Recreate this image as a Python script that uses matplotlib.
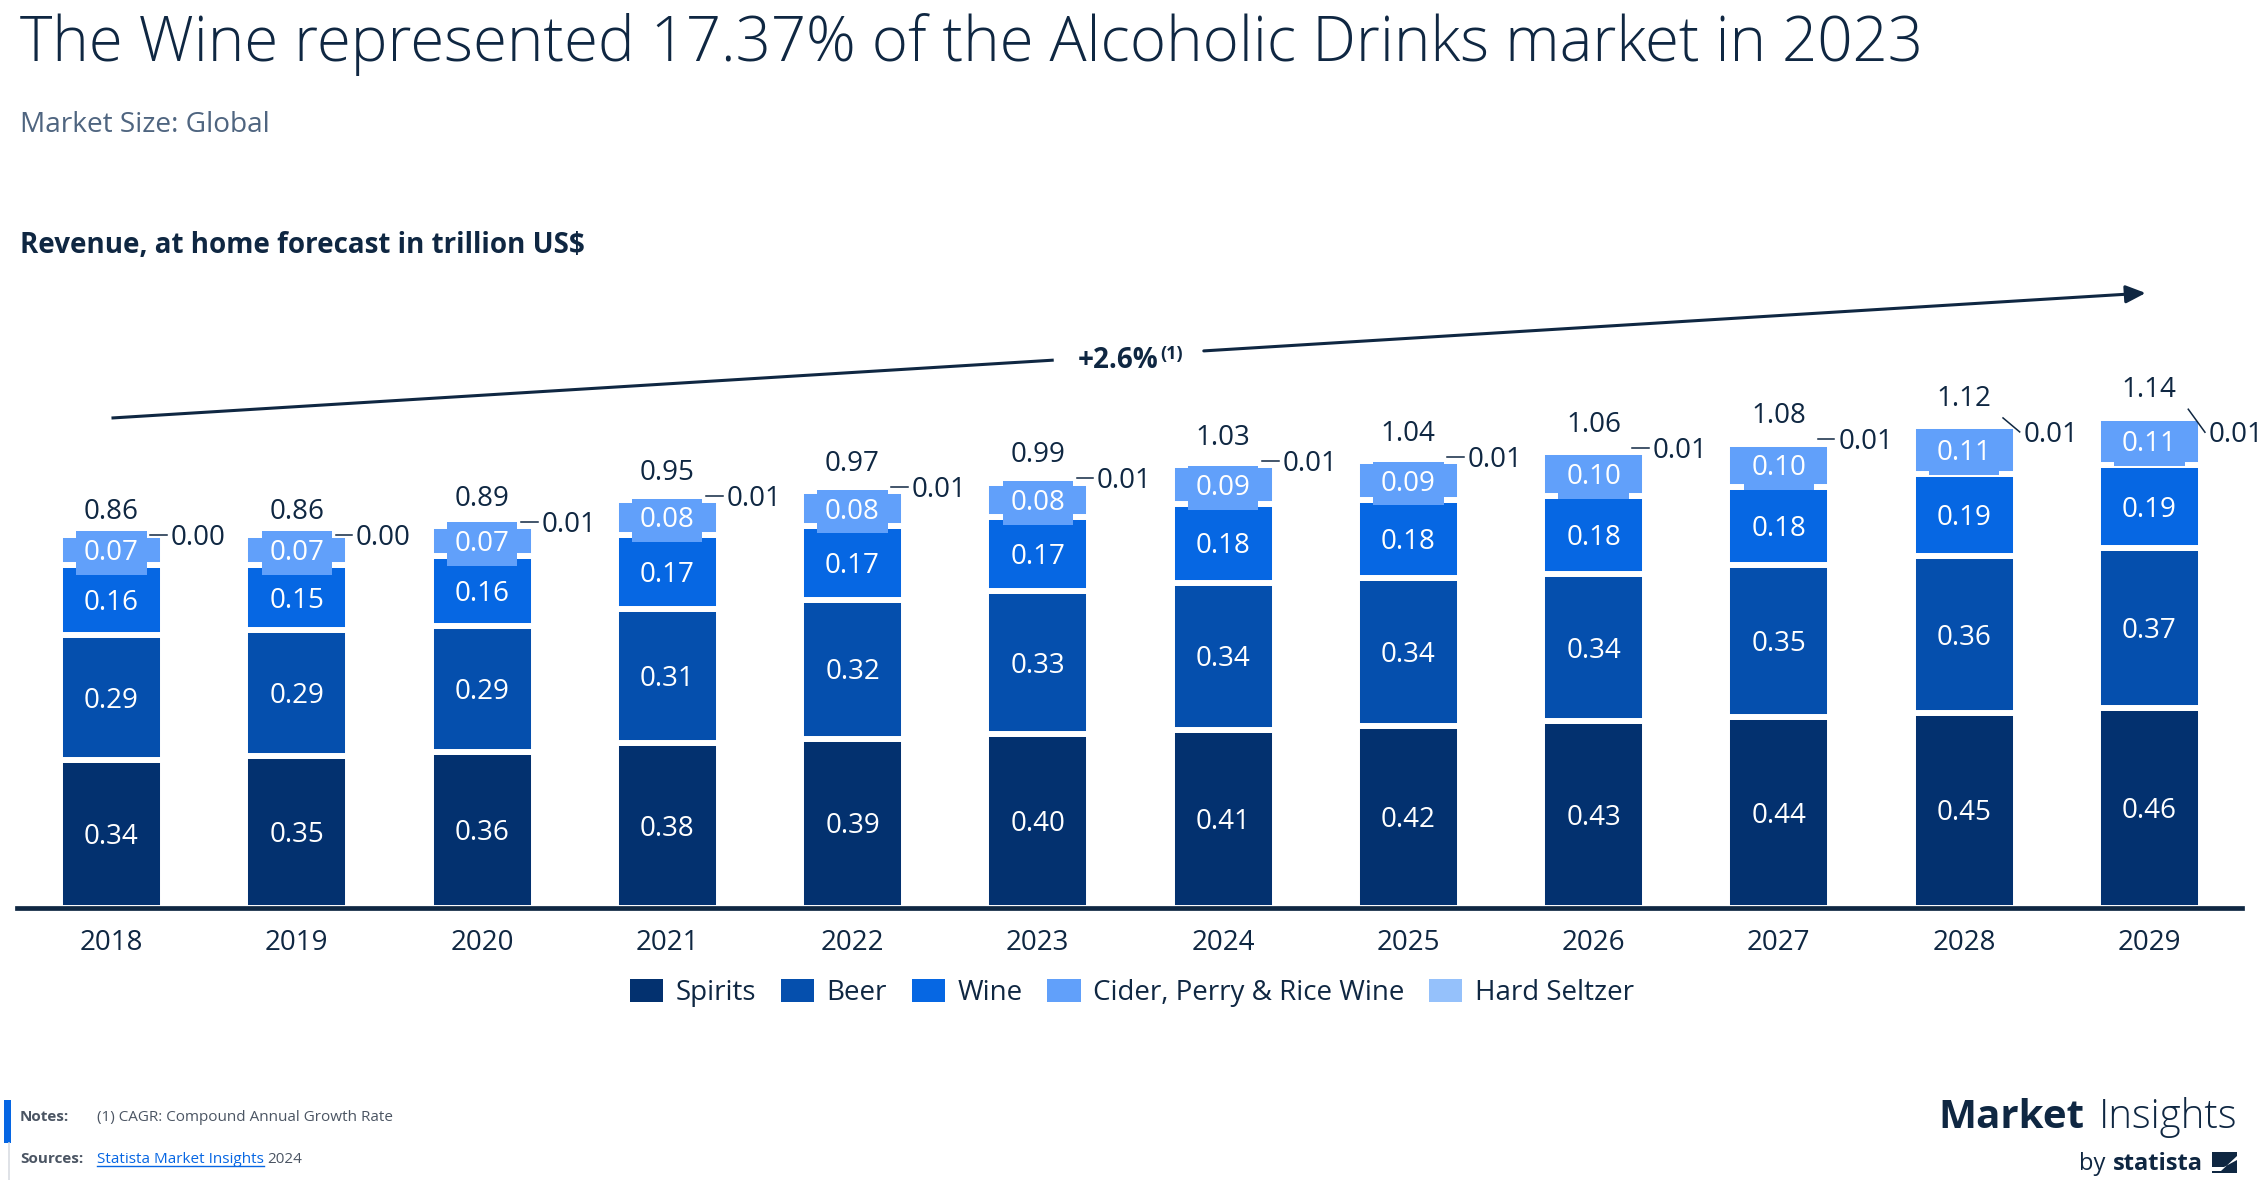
import matplotlib
matplotlib.use('Agg')
import matplotlib.pyplot as plt
from matplotlib.patches import Patch, Rectangle, Polygon
from matplotlib.lines import Line2D
import numpy as np

# ---------------- data ----------------
years = ['2018', '2019', '2020', '2021', '2022', '2023', '2024', '2025', '2026', '2027', '2028', '2029']
spirits = [0.34, 0.35, 0.36, 0.38, 0.39, 0.40, 0.41, 0.42, 0.43, 0.44, 0.45, 0.46]
beer = [0.29, 0.29, 0.29, 0.31, 0.32, 0.33, 0.34, 0.34, 0.34, 0.35, 0.36, 0.37]
wine = [0.16, 0.15, 0.16, 0.17, 0.17, 0.17, 0.18, 0.18, 0.18, 0.18, 0.19, 0.19]
cider = [0.07, 0.07, 0.07, 0.08, 0.08, 0.08, 0.09, 0.09, 0.10, 0.10, 0.11, 0.11]
seltzer = [0.00, 0.00, 0.01, 0.01, 0.01, 0.01, 0.01, 0.01, 0.01, 0.01, 0.01, 0.01]
totals = [0.86, 0.86, 0.89, 0.95, 0.97, 0.99, 1.03, 1.04, 1.06, 1.08, 1.12, 1.14]
series_names = ['Spirits', 'Beer', 'Wine', 'Cider, Perry & Rice Wine', 'Hard Seltzer']
cagr_text = '+2.6%'
cagr_note = '(1)'
title_text = 'The Wine represented 17.37% of the Alcoholic Drinks market in 2023'
subtitle_text = 'Market Size: Global'
chart_title = 'Revenue, at home forecast in trillion US$'
notes_text = '(1) CAGR: Compound Annual Growth Rate'

# ---------------- style ----------------
plt.rcParams['font.family'] = ['Open Sans', 'DejaVu Sans']
DARK = '#0f2742'
colors = ['#03316f', '#054fad', '#0667e3', '#61a0fa', '#95c1fb']

W, H = 2266, 1180
fig = plt.figure(figsize=(W / 100, H / 100), dpi=100)
fig.patch.set_facecolor('white')

YMAX = 1.5
ax_h_px = 651
ax = fig.add_axes([17 / W, 272 / H, 2225 / W, ax_h_px / H])
ax.set_xlim(-0.51, 11.5)
ax.set_ylim(0, YMAX)
PPU = ax_h_px / YMAX  # pixels per data unit in y

x = np.arange(len(years))
series = [spirits, beer, wine, cider, seltzer]
bottom = np.zeros(len(years))
BAR_W = 0.556
for k, (vals, c) in enumerate(zip(series, colors)):
    vals = np.array(vals)
    ax.bar(x, vals, width=BAR_W, bottom=bottom, color=c, edgecolor='white',
           linewidth=4.3, zorder=2)
    if k < 4:
        for i, v in enumerate(vals):
            t = ax.annotate(f'{v:.2f}', (x[i], bottom[i] + v / 2), xytext=(0, -10),
                            textcoords='offset pixels', ha='center', va='baseline',
                            color='white', fontsize=20, zorder=4)
            if k == 3:
                t.set_bbox(dict(boxstyle='square,pad=0.28', fc=c, ec='none'))
    bottom += vals

# total labels
for i, tv in enumerate(totals):
    ax.annotate(f'{tv:.2f}', (x[i], tv), xytext=(0, 16), textcoords='offset pixels',
                ha='center', va='baseline', color=DARK, fontsize=20, zorder=4)

# hard seltzer outside labels with leader lines
drop_px = [0] * 10 + [10, 19]
rise_px = [0] * 10 + [4, 4]
for i, tv in enumerate(totals):
    y0 = tv + rise_px[i] / PPU
    y1 = tv - drop_px[i] / PPU
    ax.add_line(Line2D([x[i] + 0.21, x[i] + 0.30], [y0, y1], color=DARK, lw=1.1,
                       zorder=4, clip_on=False))
    ax.annotate(f'{seltzer[i]:.2f}', (x[i] + 0.32, y1), xytext=(0, -10),
                textcoords='offset pixels', ha='left', va='baseline', color=DARK,
                fontsize=20, zorder=4, annotation_clip=False)

# CAGR arrow
ax_s, ay_s = 0.0, 1.129
ax_e, ay_e = 10.98, 1.417
def yline(xx):
    return ay_s + (ay_e - ay_s) * (xx - ax_s) / (ax_e - ax_s)
gl, gr = 5.086, 5.896
ax.add_line(Line2D([ax_s, gl], [ay_s, yline(gl)], color=DARK, lw=2.2, clip_on=False,
                   solid_capstyle='butt'))
ax.annotate('', xy=(ax_e, ay_e), xytext=(gr, yline(gr)),
            arrowprops=dict(arrowstyle='-|>,head_length=0.8,head_width=0.36',
                            mutation_scale=15, color=DARK, lw=2.2,
                            shrinkA=0, shrinkB=0), annotation_clip=False)
ax.text(5.651, 1.244, cagr_text, ha='right', va='baseline', fontsize=20,
        fontweight='bold', color=DARK)
ax.text(5.662, 1.265, cagr_note, ha='left', va='baseline', fontsize=13,
        fontweight='bold', color=DARK)

# axes styling
for s in ['top', 'right', 'left']:
    ax.spines[s].set_visible(False)
ax.spines['bottom'].set_linewidth(3.4)
ax.spines['bottom'].set_color(DARK)
ax.spines['bottom'].set_zorder(5)
ax.set_yticks([])
ax.set_xticks(x, years)
ax.tick_params(axis='x', length=0, pad=15, labelsize=20, labelcolor=DARK)

# legend
handles = [Patch(facecolor=c, edgecolor='none') for c in colors]
fig.legend(handles, series_names, loc='center', bbox_to_anchor=(0.4995, 1 - 993 / H),
           ncol=5, frameon=False, fontsize=20, handlelength=1.19, handleheight=0.9,
           handletextpad=0.45, columnspacing=0.9, labelcolor=DARK)

# titles
fig.text(20 / W, 1 - 61 / H, title_text, ha='left', va='baseline', fontsize=44.5,
         fontweight='light', color=DARK)
fig.text(20 / W, 1 - 132 / H, subtitle_text, ha='left', va='baseline', fontsize=20.2,
         color='#4f6580')
fig.text(20 / W, 1 - 253 / H, chart_title, ha='left', va='baseline', fontsize=20,
         fontweight='bold', color=DARK)

# footer
fig.add_artist(Rectangle((3.5 / W, 1 - 1143 / H), 7 / W, 43 / H, transform=fig.transFigure,
                         fc='#0666e3', ec='none'))
fig.add_artist(Line2D([9 / W, 9 / W], [0, 1 - 1143 / H], transform=fig.transFigure,
                      color='#d9dde3', lw=1.2))
GRAY = '#4b5563'
fig.text(20 / W, 1 - 1121 / H, 'Notes:', ha='left', va='baseline', fontsize=11,
         fontweight='bold', color=GRAY)
fig.text(97 / W, 1 - 1121 / H, notes_text, ha='left', va='baseline', fontsize=11,
         color=GRAY)
fig.text(20 / W, 1 - 1163 / H, 'Sources:', ha='left', va='baseline', fontsize=11,
         fontweight='bold', color=GRAY)
link = fig.text(97 / W, 1 - 1163 / H, 'Statista Market Insights', ha='left', va='baseline',
                fontsize=11, color='#0666e3')
renderer = fig.canvas.get_renderer()
bb = link.get_window_extent(renderer)
fig.add_artist(Line2D([bb.x0 / W, bb.x1 / W], [(H - 1166) / H, (H - 1166) / H],
                      transform=fig.transFigure, color='#0666e3', lw=1.0))
fig.text(bb.x1 / W + 3 / W, 1 - 1163 / H, '2024', ha='left', va='baseline', fontsize=11,
         color=GRAY)

# logo
ins = fig.text(2237 / W, 1 - 1128 / H, 'Insights', ha='right', va='baseline', fontsize=29,
               fontweight='light', color=DARK)
bb2 = ins.get_window_extent(renderer)
fig.text((bb2.x0 - 14) / W, 1 - 1128 / H, 'Market', ha='right', va='baseline', fontsize=29,
         fontweight='bold', color=DARK)
st = fig.text(2203 / W, 1 - 1170 / H, 'statista', ha='right', va='baseline', fontsize=17,
              fontweight='bold', color=DARK)
bb3 = st.get_window_extent(renderer)
fig.text((bb3.x0 - 8) / W, 1 - 1170 / H, 'by', ha='right', va='baseline', fontsize=17,
         color=DARK)
# icon
ix0, ix1, iy0, iy1 = 2212, 2237, 1173, 1152
def fp(px, py):
    return (px / W, 1 - py / H)
fig.add_artist(Rectangle(fp(ix0, iy0), (ix1 - ix0) / W, (iy0 - iy1) / H,
                         transform=fig.transFigure, fc=DARK, ec='none'))
fig.add_artist(Polygon([fp(ix0, iy0 - 2), fp(ix0 + 9, iy0 - 2), fp(ix1, iy1 + 4),
                        fp(ix1, iy1 + 8), fp(ix0 + 12, iy0 - 6), fp(ix0, iy0 - 6)],
                       closed=True, transform=fig.transFigure, fc='white', ec='none'))

fig.savefig('out.png', dpi=100, facecolor='white')
